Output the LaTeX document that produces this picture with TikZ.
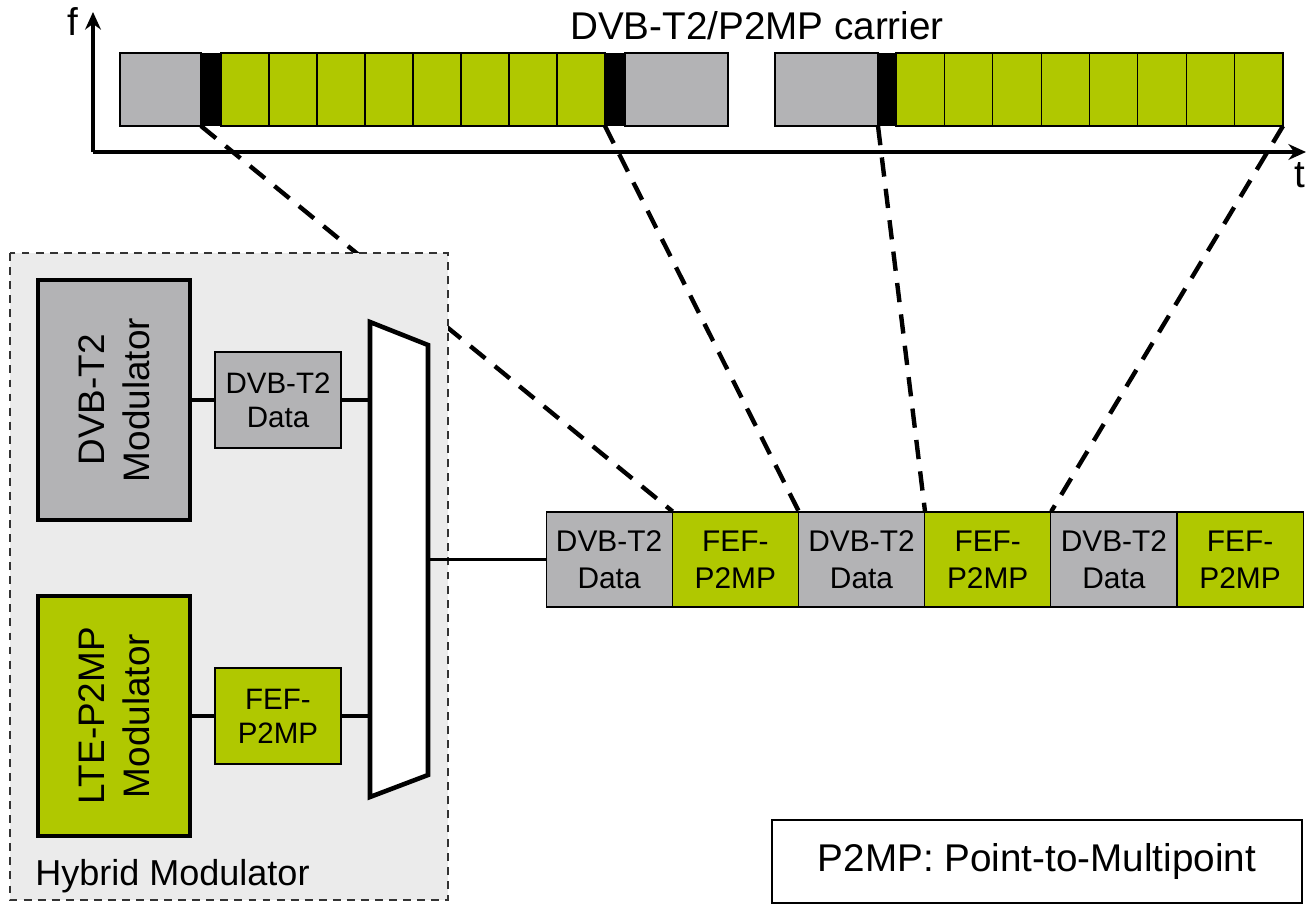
\documentclass[tikz,border=0pt]{standalone}
\usepackage{fontspec}
\setmainfont{Liberation Sans}
\usetikzlibrary{arrows.meta}
\definecolor{ltegreen}{RGB}{176,200,0}
\definecolor{tgray}{RGB}{179,179,181}
\definecolor{hybgray}{RGB}{235,235,235}
\tikzset{
  cell/.style={draw, line width=0.6pt, minimum width=2.52cm, minimum height=1.9cm,
    inner sep=0pt, align=center, font=\fontsize{17}{21}\selectfont},
  databox/.style={draw, line width=0.9pt, minimum width=2.52cm, minimum height=1.92cm,
    inner sep=0pt, align=center, font=\fontsize{16.8}{19.5}\selectfont},
  modbox/.style={draw, line width=2.8pt, rotate=90, minimum width=4.8cm, minimum height=3.04cm,
    inner sep=0pt, align=center, font=\fontsize{21}{25.5}\selectfont},
  conn/.style={line width=2.2pt},
  frameline/.style={line width=2.5pt, dash pattern=on 11pt off 7pt},
  slot/.style={draw, line width=0.6pt}
}
\begin{document}
\begin{tikzpicture}[x=0.02cm,y=-0.02cm,>={Stealth[length=10pt,width=9pt]}]
\useasboundingbox (0,0) rectangle (1306,907);
% carrier
\node (carrier) at (757,26) {\fontsize{22}{26}\selectfont DVB-T2/P2MP carrier};
\draw[slot, fill=tgray] (120,53) rectangle (201,126);
\fill (201,53) rectangle (221,126);
\foreach \x in {221,269,...,557}
  \draw[slot, fill=ltegreen] (\x,53) rectangle ++(48,73);
\fill (605,53) rectangle (625,126);
\draw[slot, fill=tgray] (625,53) rectangle (728,126);
\draw[slot, fill=tgray] (775,53) rectangle (878,126);
\fill (878,53) rectangle (896,126);
\foreach \i in {0,...,7}
  \draw[slot, fill=ltegreen] (896+48.375*\i,53) rectangle ++(48.375,73);
\coordinate (s1) at (201,126);
\coordinate (s2) at (605,126);
\coordinate (s3) at (878,126);
\coordinate (s4) at (1283,126);
% axes
\draw[->, line width=2.1pt] (93,152)--(93,12);
\draw[->, line width=2.1pt] (93,152)--(1306,152);
\node (flab) at (73,22) {\fontsize{22}{26}\selectfont f};
\node[anchor=east, inner sep=0pt] (tlab) at (1306,175) {\fontsize{22}{26}\selectfont t};
% frame
\foreach \i/\col/\txt in {1/tgray/{DVB-T2\\Data},2/ltegreen/{FEF-\\P2MP},3/tgray/{DVB-T2\\Data},
    4/ltegreen/{FEF-\\P2MP},5/tgray/{DVB-T2\\Data},6/ltegreen/{FEF-\\P2MP}}
  \node[cell, fill=\col] (b\i) at (546+126.2*\i-63.1,559.5) {\txt};
\draw[frameline] (s1)--(b1.north east);
\draw[frameline] (s2)--(b2.north east);
\draw[frameline] (s3)--(b3.north east);
\draw[frameline] (s4)--(b4.north east);
% hybrid modulator
\draw[line width=0.9pt, dash pattern=on 4.5pt off 3.5pt, draw=black!80, fill=hybgray] (10,253) rectangle (448,900);
\node[anchor=south west, inner sep=0pt] (hyb) at (35,893) {\fontsize{20.5}{24}\selectfont Hybrid Modulator};
\node[modbox, fill=tgray] (dvbmod) at (114,400) {DVB-T2\\Modulator};
\node[modbox, fill=ltegreen] (ltemod) at (114,716) {LTE-P2MP\\Modulator};
\node[databox, fill=tgray] (dvbdata) at (278,400) {DVB-T2\\Data};
\node[databox, fill=ltegreen] (fefdata) at (278,716) {FEF-\\P2MP};
\draw[line width=2.6pt, fill=white] (370,322)--(428,345)--(428,775)--(370,797)--cycle;
\coordinate (mi1) at (370,400);
\coordinate (mi2) at (370,716);
\coordinate (mo) at (428,559.5);
\draw[conn] (dvbmod)--(dvbdata);
\draw[conn] (dvbdata)--(mi1);
\draw[conn] (ltemod)--(fefdata);
\draw[conn] (fefdata)--(mi2);
\draw[conn] (mo)--(b1);
% legend
\node[draw, line width=0.8pt, minimum width=10.6cm, minimum height=1.66cm, font=\fontsize{22}{26}\selectfont] (legend) at (1037,861.5) {P2MP: Point-to-Multipoint};
\end{tikzpicture}
\end{document}
